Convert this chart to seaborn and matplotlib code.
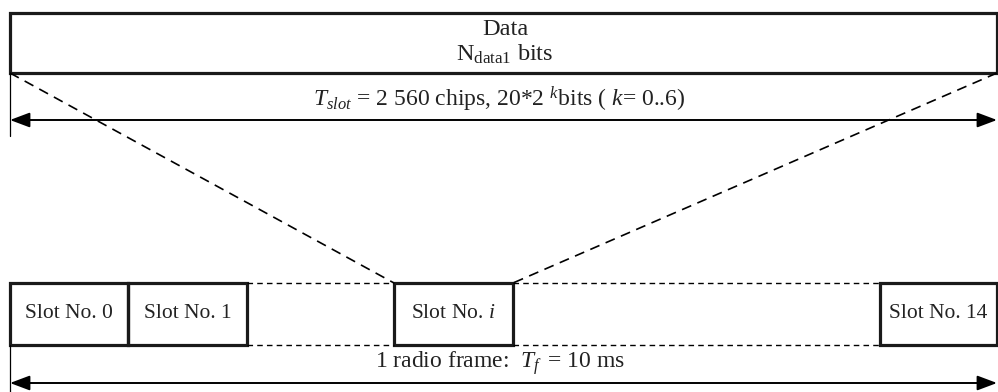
import matplotlib
matplotlib.use("Agg")
import matplotlib.pyplot as plt
from matplotlib.patches import Rectangle
import seaborn as sns

# Diagram content
data_label = ["Data", r"N$_{\mathrm{data1}}$ bits"]
slot_text = r"$T_{slot}$ = 2 560 chips, 20*2 $^{k}$bits ( $k$= 0..6)"
frame_text = r"1 radio frame:  $T_f\,$ = 10 ms"
slot_labels = ["Slot No. 0", "Slot No. 1", r"Slot No. $i$", "Slot No. 14"]
slot_left = [10, 128, 394, 880]
slot_right = [128, 247, 513, 997]

sns.set_theme(style="white")
plt.rcParams['font.family'] = ['Liberation Serif', 'DejaVu Serif']
plt.rcParams['mathtext.fontset'] = 'custom'
plt.rcParams['mathtext.rm'] = 'Liberation Serif'
plt.rcParams['mathtext.it'] = 'Liberation Serif:italic'
txt_color = '#222222'

fig = plt.figure(figsize=(9.98, 3.92), dpi=100)
ax = fig.add_axes([0, 0, 1, 1])
ax.set_xlim(0, 998)
ax.set_ylim(392, 0)
ax.axis('off')

# top data box
ax.add_patch(Rectangle((10, 13), 987, 60, fill=False, lw=2.3, ec='#1a1a1a'))
ax.text(505, 29, data_label[0], ha='center', va='center', fontsize=17.5, color=txt_color)
ax.text(505, 54, data_label[1], ha='center', va='center', fontsize=17.5, color=txt_color)

# T_slot arrow
ax.plot([10, 10], [73, 136], color='black', lw=0.9)
ax.annotate('', xy=(997, 120), xytext=(10, 120),
            arrowprops=dict(arrowstyle='<|-|>,head_length=1.2,head_width=0.45',
                            lw=1.4, color='black', shrinkA=0, shrinkB=0, mutation_scale=10))
ax.text(499, 99, slot_text, ha='center', va='center', fontsize=17, color=txt_color)

# dashed zoom lines
sns.lineplot(x=[10, 394], y=[73, 283], ax=ax, color='black', lw=1.2,
             linestyle=(0, (6, 4)), sort=False)
sns.lineplot(x=[997, 513], y=[73, 283], ax=ax, color='black', lw=1.2,
             linestyle=(0, (6, 4)), sort=False)

# dashed gaps between slots
for y in [283, 345]:
    ax.plot([247, 394], [y, y], color='black', lw=1.0, linestyle=(0, (4, 3)))
    ax.plot([513, 880], [y, y], color='black', lw=1.0, linestyle=(0, (4, 3)))

# slot boxes
for lab, l, r in zip(slot_labels, slot_left, slot_right):
    ax.add_patch(Rectangle((l, 283), r - l, 62, fill=False, lw=2.3, ec='#1a1a1a'))
    ax.text((l + r) / 2, 313, lab, ha='center', va='center', fontsize=15.5, color=txt_color)

# radio frame arrow
ax.plot([10, 10], [345, 392], color='black', lw=0.9)
ax.annotate('', xy=(997, 383), xytext=(10, 383),
            arrowprops=dict(arrowstyle='<|-|>,head_length=1.2,head_width=0.45',
                            lw=1.4, color='black', shrinkA=0, shrinkB=0, mutation_scale=10))
ax.text(500, 363, frame_text, ha='center', va='center', fontsize=17, color=txt_color)

fig.savefig('out.png', dpi=100)
